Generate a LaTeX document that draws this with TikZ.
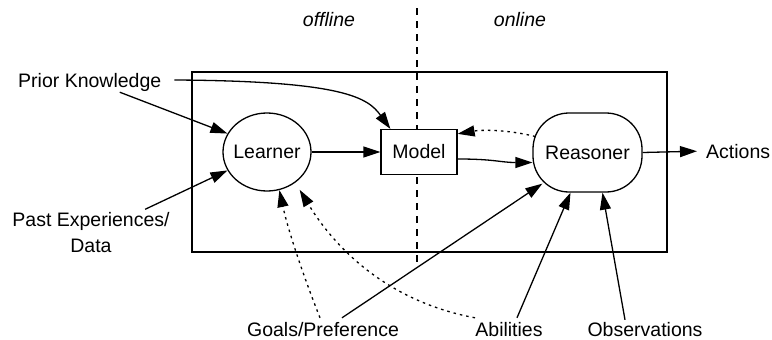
\documentclass[tikz,border=0pt]{standalone}
\usepackage{fontspec}
\setmainfont{Liberation Sans}
\usetikzlibrary{arrows.meta,shapes.geometric}

\begin{document}
\begin{tikzpicture}[x=1pt,y=-1pt,
  every node/.style={font=\fontsize{19.5}{26}\selectfont},
  lbl/.style={inner sep=1pt,text height=15pt,text depth=1pt},
  arr/.style={line width=1.3pt,-{Triangle[length=17pt,width=11pt]}},
  dots/.style={arr,dash pattern=on 2.5pt off 4pt},
  box/.style={draw,line width=1.3pt,fill=white}]
  \useasboundingbox (0,0) rectangle (772,340);

  \draw[line width=1.3pt] (192,72) rectangle (667,252);
  \draw[line width=1.3pt,dash pattern=on 7pt off 6pt] (417,8) -- (417,267);

  \node[box,ellipse,inner sep=0pt,minimum width=88pt,minimum height=78pt] (learner) at (267,152) {\makebox[50pt]{Learner}};
  \node[box,minimum width=76pt,minimum height=45pt] (model) at (419,152) {Model};
  \node[box,rounded corners=36pt,minimum width=109pt,minimum height=79pt] (reasoner) at (587.5,152.5) {Reasoner};

  \node[lbl,anchor=base] (offline) at (329,27) {\itshape offline};
  \node[lbl,anchor=base] (online) at (520,27) {\itshape online};
  \node[lbl,anchor=base west] (prior) at (17,87) {Prior Knowledge};
  \node[align=center] (past) at (91,233) {Past Experiences/\\Data};
  \node[lbl,anchor=base] (goals) at (323,336) {Goals/Preference};
  \node[lbl,anchor=base] (abil) at (509,336) {Abilities};
  \node[lbl,anchor=base] (obs) at (645,336) {Observations};
  \node[lbl,anchor=base west] (actions) at (705,158) {Actions};

  % inputs of the learner
  \draw[arr] ([xshift=30pt,yshift=-3pt]prior.south) -- (learner.155);
  \draw[arr] ([xshift=-28pt]past.north east) -- (learner.205);
  \draw[arr] ([xshift=12pt]prior.east) .. controls (345,81) and (368,98) .. ([xshift=10pt]model.north west);
  \draw[dots] ([xshift=-3pt,yshift=2pt]goals.north) .. controls (303,275) and (288,230) .. (learner.288);
  \draw[dots] ([xshift=-34pt,yshift=2pt]abil.north) .. controls (380,300) and (330,240) .. ([shift={(6pt,-6pt)}]learner.310);

  % model and reasoner
  \draw[arr] (learner.east) -- (model.west);
  \draw[arr] ([yshift=-7pt]model.east) .. controls (495,159) and (500,162.5) .. ([yshift=-10pt]reasoner.west);
  \draw[dots] ([xshift=3pt,yshift=16pt]reasoner.west) .. controls (505,129) and (480,130) .. ([yshift=-5pt]model.north east);
  \draw[arr,shorten >=8pt] (reasoner.east) -- (actions.west);

  % inputs of the reasoner
  \draw[arr] ([xshift=19pt,yshift=2pt]goals.north) -- ([xshift=10pt,yshift=9pt]reasoner.south west);
  \draw[arr] ([xshift=8pt,yshift=2pt]abil.north) -- ([xshift=-17pt]reasoner.south);
  \draw[arr] ([xshift=-20pt]obs.north) -- ([xshift=15pt]reasoner.south);
\end{tikzpicture}
\end{document}
